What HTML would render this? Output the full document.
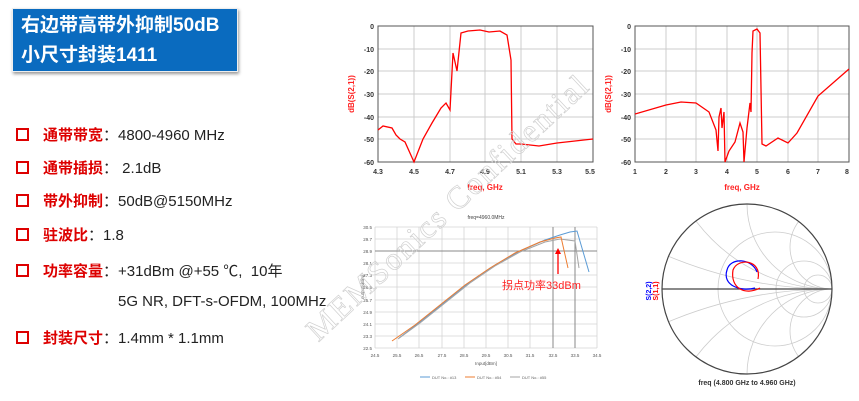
<!DOCTYPE html>
<html><head><meta charset="utf-8"><style>
html,body{margin:0;width:859px;height:401px;overflow:hidden}
body{background:#fff;position:relative;font-family:"Liberation Sans","Noto Sans CJK SC",sans-serif}
.t{position:absolute;left:12px;top:8px;width:226px;height:64px;background:#0a6bbf;border:1px solid #eee;box-shadow:1px 2px 3px #999;color:#fff;font-weight:bold;font-size:19px;line-height:30px;padding:2px 8px;box-sizing:border-box}
.b{position:absolute;left:16px;font-size:15px;color:#222;white-space:nowrap}
.b i{display:inline-block;width:9px;height:9px;border:2px solid #d00;margin-right:14px;vertical-align:-1px}
.b span{color:#d00;font-weight:bold}
svg{position:absolute;left:0;top:0}
</style></head><body>
<div class="t">右边带高带外抑制50dB<br>小尺寸封装1411</div>
<div class="b" style="top:124px"><i></i><span>通带带宽</span>：4800-4960 MHz</div>
<div class="b" style="top:157px"><i></i><span>通带插损</span>：&nbsp;2.1dB</div>
<div class="b" style="top:190px"><i></i><span>带外抑制</span>：50dB@5150MHz</div>
<div class="b" style="top:224px"><i></i><span>驻波比</span>：1.8</div>
<div class="b" style="top:260px"><i></i><span>功率容量</span>：+31dBm @+55 ℃,&nbsp; 10年</div>
<div class="b" style="top:293px;left:118px">5G NR, DFT-s-OFDM, 100MHz</div>
<div class="b" style="top:327px"><i></i><span>封装尺寸</span>：1.4mm * 1.1mm</div>
<svg width="859" height="401" font-family="Liberation Sans,sans-serif">
<defs><clipPath id="sc"><circle cx="747" cy="289" r="85"/></clipPath></defs>
<g stroke="#ccc" stroke-width="1">
<line x1="378" y1="49" x2="593" y2="49"/><line x1="378" y1="71" x2="593" y2="71"/><line x1="378" y1="94" x2="593" y2="94"/><line x1="378" y1="117" x2="593" y2="117"/><line x1="378" y1="139" x2="593" y2="139"/>
<line x1="414" y1="26" x2="414" y2="162"/><line x1="450" y1="26" x2="450" y2="162"/><line x1="485" y1="26" x2="485" y2="162"/><line x1="521" y1="26" x2="521" y2="162"/><line x1="557" y1="26" x2="557" y2="162"/>
<line x1="635" y1="49" x2="849" y2="49"/><line x1="635" y1="71" x2="849" y2="71"/><line x1="635" y1="94" x2="849" y2="94"/><line x1="635" y1="117" x2="849" y2="117"/><line x1="635" y1="139" x2="849" y2="139"/>
<line x1="666" y1="26" x2="666" y2="162"/><line x1="696" y1="26" x2="696" y2="162"/><line x1="727" y1="26" x2="727" y2="162"/><line x1="757" y1="26" x2="757" y2="162"/><line x1="788" y1="26" x2="788" y2="162"/><line x1="818" y1="26" x2="818" y2="162"/>
</g>
<rect x="378" y="26" width="215" height="136" fill="none" stroke="#555"/>
<rect x="635" y="26" width="214" height="136" fill="none" stroke="#555"/>
<g font-size="7" font-weight="bold" fill="#333" text-anchor="end">
<text x="374" y="29">0</text><text x="374" y="52">-10</text><text x="374" y="74">-20</text><text x="374" y="97">-30</text><text x="374" y="120">-40</text><text x="374" y="142">-50</text><text x="374" y="165">-60</text>
<text x="631" y="29">0</text><text x="631" y="52">-10</text><text x="631" y="74">-20</text><text x="631" y="97">-30</text><text x="631" y="120">-40</text><text x="631" y="142">-50</text><text x="631" y="165">-60</text>
</g>
<g font-size="7" font-weight="bold" fill="#333" text-anchor="middle">
<text x="378" y="174">4.3</text><text x="414" y="174">4.5</text><text x="450" y="174">4.7</text><text x="485" y="174">4.9</text><text x="521" y="174">5.1</text><text x="557" y="174">5.3</text><text x="590" y="174">5.5</text>
<text x="635" y="174">1</text><text x="666" y="174">2</text><text x="696" y="174">3</text><text x="727" y="174">4</text><text x="757" y="174">5</text><text x="788" y="174">6</text><text x="818" y="174">7</text><text x="847" y="174">8</text>
</g>
<g font-size="8" font-weight="bold" fill="#f22">
<text x="485" y="190" text-anchor="middle">freq, GHz</text><text x="742" y="190" text-anchor="middle">freq, GHz</text>
<text transform="translate(354,94) rotate(-90)" text-anchor="middle">dB(S(2,1))</text>
<text transform="translate(611,94) rotate(-90)" text-anchor="middle">dB(S(2,1))</text>
</g>
<polyline fill="none" stroke="#f00" stroke-width="1.3" points="378,130 383,126 392,128 396,135 400,139 405,142 414,162 423,139 432,123 441,108 446,103 450,110 453,53 457,71 461,33 468,31 480,30 489,32 500,31 507,35 511,60 512,139 516,144 521,144 539,146 557,143 593,139"/>
<polyline fill="none" stroke="#f00" stroke-width="1.3" points="635,114 666,105 681,102 696,103 709,112 716,130 718,151 719,117 721,108 722,128 724,112 725,162 729,151 735,142 740,123 743,132 744,162 747,128 750,103 751,112 752,53 753,31 757,29 760,33 762,144 766,146 778,138 788,143 797,133 818,96 849,69"/>
<text x="486" y="219" font-size="5" text-anchor="middle" fill="#444">freq=4960.0MHz</text>
<g stroke="#d4d4d4" stroke-width="0.8">
<line x1="375" y1="227" x2="597" y2="227"/><line x1="375" y1="239" x2="597" y2="239"/><line x1="375" y1="263" x2="597" y2="263"/><line x1="375" y1="275" x2="597" y2="275"/><line x1="375" y1="287" x2="597" y2="287"/><line x1="375" y1="300" x2="597" y2="300"/><line x1="375" y1="312" x2="597" y2="312"/><line x1="375" y1="324" x2="597" y2="324"/><line x1="375" y1="336" x2="597" y2="336"/><line x1="375" y1="348" x2="597" y2="348"/>
<line x1="375" y1="227" x2="375" y2="348"/><line x1="397" y1="227" x2="397" y2="348"/><line x1="419" y1="227" x2="419" y2="348"/><line x1="442" y1="227" x2="442" y2="348"/><line x1="464" y1="227" x2="464" y2="348"/><line x1="486" y1="227" x2="486" y2="348"/><line x1="508" y1="227" x2="508" y2="348"/><line x1="530" y1="227" x2="530" y2="348"/><line x1="597" y1="227" x2="597" y2="348"/>
</g>
<line x1="375" y1="251" x2="597" y2="251" stroke="#888"/><line x1="553" y1="227" x2="553" y2="348" stroke="#888"/><line x1="575" y1="227" x2="575" y2="348" stroke="#888"/>
<g font-size="4.5" fill="#555" text-anchor="end">
<text x="372" y="229">30.5</text><text x="372" y="241">29.7</text><text x="372" y="253">28.9</text><text x="372" y="265">28.1</text><text x="372" y="277">27.3</text><text x="372" y="289">26.5</text><text x="372" y="302">25.7</text><text x="372" y="314">24.9</text><text x="372" y="326">24.1</text><text x="372" y="338">23.3</text><text x="372" y="350">22.5</text>
</g>
<g font-size="4.5" fill="#555" text-anchor="middle">
<text x="375" y="357">24.5</text><text x="397" y="357">25.5</text><text x="419" y="357">26.5</text><text x="442" y="357">27.5</text><text x="464" y="357">28.5</text><text x="486" y="357">29.5</text><text x="508" y="357">30.5</text><text x="530" y="357">31.5</text><text x="553" y="357">32.5</text><text x="575" y="357">33.5</text><text x="597" y="357">34.5</text>
<text x="486" y="365">Input[dBm]</text>
</g>
<text transform="translate(364,287) rotate(-90)" font-size="4.5" fill="#555" text-anchor="middle">output[dBm]</text>
<polyline fill="none" stroke="#5b9bd5" stroke-width="1" points="399,338 420,322 445,302 470,282 495,265 520,251 545,240 560,235 570,232 577,231 589,272"/>
<polyline fill="none" stroke="#a5a5a5" stroke-width="1" points="398,339 420,323 445,303 470,283 495,266 520,252 545,242 560,239 575,241 579,268"/>
<polyline fill="none" stroke="#ed7d31" stroke-width="1" points="392,341 415,325 440,305 465,285 490,268 515,253 540,242 555,238 561,237 568,268"/>
<line x1="558" y1="274" x2="558" y2="252" stroke="#f00" stroke-width="1.3"/><polygon points="555,254 561,254 558,248" fill="#f00"/>
<text x="502" y="289" font-size="11" fill="#f22" font-family="Liberation Sans,Noto Sans CJK SC,sans-serif">拐点功率33dBm</text>
<g font-size="4" fill="#666"><line x1="420" y1="377" x2="430" y2="377" stroke="#5b9bd5"/><text x="432" y="379">DUT No.: #13</text>
<line x1="465" y1="377" x2="475" y2="377" stroke="#ed7d31"/><text x="477" y="379">DUT No.: #54</text>
<line x1="510" y1="377" x2="520" y2="377" stroke="#a5a5a5"/><text x="522" y="379">DUT No.: #55</text></g>
<g fill="none" stroke="#ccc" stroke-width="0.8" clip-path="url(#sc)">
<circle cx="775" cy="289" r="57"/><circle cx="804" cy="289" r="28"/><circle cx="818" cy="289" r="14"/>
<circle cx="832" cy="204" r="85"/><circle cx="832" cy="374" r="85"/><circle cx="832" cy="119" r="170"/><circle cx="832" cy="459" r="170"/><circle cx="832" cy="247" r="42"/><circle cx="832" cy="331" r="42"/>
<circle cx="832" cy="-136" r="425"/><circle cx="832" cy="714" r="425"/>
</g>
<circle cx="747" cy="289" r="85" fill="none" stroke="#444" stroke-width="1.2"/>
<line x1="662" y1="289" x2="832" y2="289" stroke="#444" stroke-width="1.2"/>
<path d="M757,272 C752,258 730,257 727,270 C722,285 740,292 755,288" fill="none" stroke="#00f" stroke-width="1.2"/>
<path d="M758,279 C762,260 738,257 733,270 C730,288 745,296 760,288" fill="none" stroke="#f00" stroke-width="1.2"/>
<text transform="translate(651,291) rotate(-90)" font-size="7" font-weight="bold" text-anchor="middle" fill="#00f">S(2,2)</text>
<text transform="translate(658,291) rotate(-90)" font-size="7" font-weight="bold" text-anchor="middle" fill="#f00">S(1,1)</text>
<text x="747" y="385" font-size="7" font-weight="bold" fill="#333" text-anchor="middle">freq (4.800 GHz to 4.960 GHz)</text>
<text x="455" y="215" transform="rotate(-43 455 215)" font-size="32" font-family="Liberation Serif,serif" fill="none" stroke="#d0d0d0" stroke-width="0.7" text-anchor="middle" letter-spacing="2">MEMSonics Confidential</text>
</svg>
</body></html>
